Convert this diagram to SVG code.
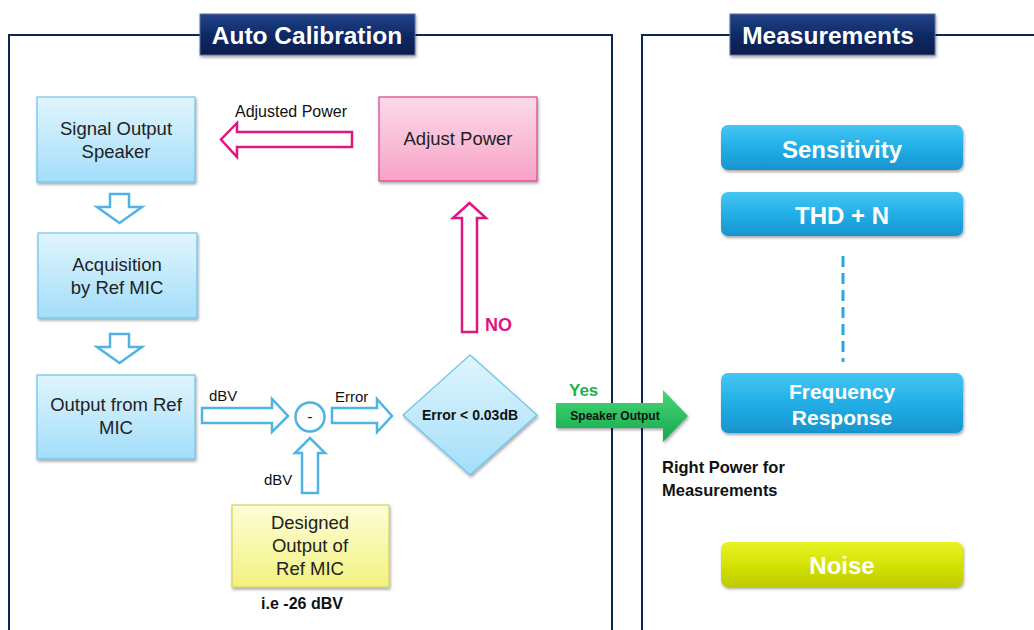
<svg xmlns="http://www.w3.org/2000/svg" width="1034" height="630" viewBox="0 0 1034 630">
<defs>
<linearGradient id="gBlue" x1="0" y1="0" x2="0" y2="1"><stop offset="0" stop-color="#e0f5fd"/><stop offset="1" stop-color="#a3defa"/></linearGradient>
<linearGradient id="gPink" x1="0" y1="0" x2="0" y2="1"><stop offset="0" stop-color="#fcdbe9"/><stop offset="1" stop-color="#f7a3c6"/></linearGradient>
<linearGradient id="gYellow" x1="0" y1="0" x2="0" y2="1"><stop offset="0" stop-color="#fdfdd8"/><stop offset="1" stop-color="#f3f27e"/></linearGradient>
<linearGradient id="gNavy" x1="0" y1="0" x2="0" y2="1"><stop offset="0" stop-color="#23448a"/><stop offset="0.5" stop-color="#0f2a66"/><stop offset="1" stop-color="#0a1d4d"/></linearGradient>
<linearGradient id="gBtn" x1="0" y1="0" x2="0" y2="1"><stop offset="0" stop-color="#45c6f3"/><stop offset="0.5" stop-color="#22aee6"/><stop offset="1" stop-color="#1894cf"/></linearGradient>
<linearGradient id="gNoise" x1="0" y1="0" x2="0" y2="1"><stop offset="0" stop-color="#e8f324"/><stop offset="0.5" stop-color="#d4e306"/><stop offset="1" stop-color="#bccb00"/></linearGradient>
<linearGradient id="gGreen" x1="0" y1="0" x2="0" y2="1"><stop offset="0" stop-color="#48d67a"/><stop offset="1" stop-color="#14a94a"/></linearGradient>
<filter id="sh" x="-10%" y="-10%" width="130%" height="140%"><feDropShadow dx="1" dy="2" stdDeviation="1.5" flood-color="#000" flood-opacity="0.35"/></filter>
</defs>
<style>
.frame{fill:none;stroke:#0b2557;stroke-width:2}
.box{stroke-width:1.2;filter:url(#sh)}
.bt{font-family:"Liberation Sans",Arial,sans-serif;font-size:18.5px;fill:#222;text-anchor:middle}
.lbl{font-family:"Liberation Sans",Arial,sans-serif;font-size:15px;fill:#111}
.bold{font-weight:bold}
.ttl{font-family:"Liberation Sans",Arial,sans-serif;font-size:24.5px;font-weight:bold;fill:#fff;text-anchor:middle}
.btn{font-family:"Liberation Sans",Arial,sans-serif;font-size:24px;font-weight:bold;fill:#fff;text-anchor:middle}
.barr{fill:#fff;stroke:#4fb3e3;stroke-width:2.5;stroke-linejoin:miter}
.marr{fill:#fff;stroke:#e0157f;stroke-width:2.5;stroke-linejoin:miter}
</style>
<rect width="1034" height="630" fill="#fff"/>
<g id="frames">
<path class="frame" d="M9 630 V35 H200 M415 35 H612 V630"/>
<path class="frame" d="M642 630 V35 H730 M935 35 H1034"/>
</g>
<g id="title-auto"><rect x="200" y="14" width="215" height="41" fill="url(#gNavy)" stroke="#5a6fa0" stroke-width="1" filter="url(#sh)"/><text class="ttl" x="307" y="44">Auto Calibration</text></g>
<g id="title-meas"><rect x="730" y="14" width="205" height="41" fill="url(#gNavy)" stroke="#5a6fa0" stroke-width="1" filter="url(#sh)"/><text class="ttl" x="828" y="44">Measurements</text></g>
<g id="connectors">
<path class="barr" d="M110 194 H129 V207 H142 L119.5 223 L97 207 H110 Z"/>
<path class="barr" d="M110 334 H129 V347 H142 L119.5 363 L97 347 H110 Z"/>
<path class="marr" d="M352 132 H237 V123 L221 139.5 L237 157 V147 H352 Z"/>
<path class="marr" d="M462 332 V218 H453 L469.5 203 L486 218 H477 V332 Z"/>
<path class="barr" d="M202 408 H272 V399 L288 416 L272 432 V423 H202 Z"/>
<path class="barr" d="M332 408 H377 V399 L392 416 L377 432 V423 H332 Z"/>
<path class="barr" d="M302 493 V453 H295 L310 438 L325 453 H318 V493 Z"/>
<path d="M556 403 H663 V390 L688 416 L663 442 V428 H556 Z" fill="url(#gGreen)" filter="url(#sh)"/>
<line x1="843" y1="256" x2="843" y2="362" stroke="#2aa6e0" stroke-width="3" stroke-dasharray="11,6"/>
<text class="lbl" x="291" y="117" text-anchor="middle" style="font-size:16px">Adjusted Power</text>
<text class="lbl bold" x="485" y="331" style="font-size:18px;fill:#e0157f">NO</text>
<text class="lbl" x="209" y="401">dBV</text>
<text class="lbl" x="335" y="402">Error</text>
<text class="lbl" x="264" y="485">dBV</text>
<text class="lbl bold" x="569" y="396" style="font-size:17px;fill:#1fb14f">Yes</text>
<text class="lbl bold" x="615" y="420" text-anchor="middle" style="font-size:12px">Speaker Output</text>
</g>
<g id="n-signal"><rect class="box" x="37" y="97" width="158" height="85" fill="url(#gBlue)" stroke="#6cc4ea"/><text class="bt" x="116" y="135">Signal Output</text><text class="bt" x="116" y="158">Speaker</text></g>
<g id="n-acq"><rect class="box" x="38" y="233" width="159" height="85" fill="url(#gBlue)" stroke="#6cc4ea"/><text class="bt" x="117" y="271">Acquisition</text><text class="bt" x="117" y="294">by Ref MIC</text></g>
<g id="n-out"><rect class="box" x="37" y="375" width="158" height="84" fill="url(#gBlue)" stroke="#6cc4ea"/><text class="bt" x="116" y="411">Output from Ref</text><text class="bt" x="116" y="434">MIC</text></g>
<g id="n-adjust"><rect class="box" x="379" y="97" width="158" height="84" fill="url(#gPink)" stroke="#e0428c"/><text class="bt" x="458" y="145">Adjust Power</text></g>
<g id="n-minus"><circle cx="310" cy="417" r="14.5" fill="#fff" stroke="#4fb3e3" stroke-width="2.5"/><text class="bt" x="310" y="422" style="font-size:16px">-</text></g>
<g id="n-designed"><rect class="box" x="232" y="505" width="157" height="82" fill="url(#gYellow)" stroke="#d3d35c"/><text class="bt" x="310" y="529">Designed</text><text class="bt" x="310" y="552">Output of</text><text class="bt" x="310" y="575">Ref MIC</text><text class="lbl bold" x="302" y="609" text-anchor="middle" style="font-size:16px">i.e -26 dBV</text></g>
<g id="n-diamond"><path class="box" d="M470 355 L537 415 L470 475 L403 415 Z" fill="url(#gBlue)" stroke="#6cc4ea"/><text class="lbl bold" x="470" y="420" text-anchor="middle" style="font-size:14px">Error &lt; 0.03dB</text></g>
<g id="n-sens"><rect x="721" y="125" width="242" height="45" rx="7" fill="url(#gBtn)" filter="url(#sh)"/><text class="btn" x="842" y="158">Sensitivity</text></g>
<g id="n-thd"><rect x="721" y="192" width="242" height="44" rx="7" fill="url(#gBtn)" filter="url(#sh)"/><text class="btn" x="842" y="224">THD + N</text></g>
<g id="n-freq"><rect x="721" y="373" width="242" height="60" rx="7" fill="url(#gBtn)" filter="url(#sh)"/><text class="btn" x="842" y="399" style="font-size:21px">Frequency</text><text class="btn" x="842" y="425" style="font-size:21px">Response</text></g>
<g id="n-noise"><rect x="721" y="542" width="242" height="45" rx="7" fill="url(#gNoise)" filter="url(#sh)"/><text class="btn" x="842" y="574">Noise</text></g>
<g id="note"><text class="lbl bold" x="662" y="473" style="font-size:16.5px">Right Power for</text><text class="lbl bold" x="662" y="496" style="font-size:16.5px">Measurements</text></g>
</svg>
